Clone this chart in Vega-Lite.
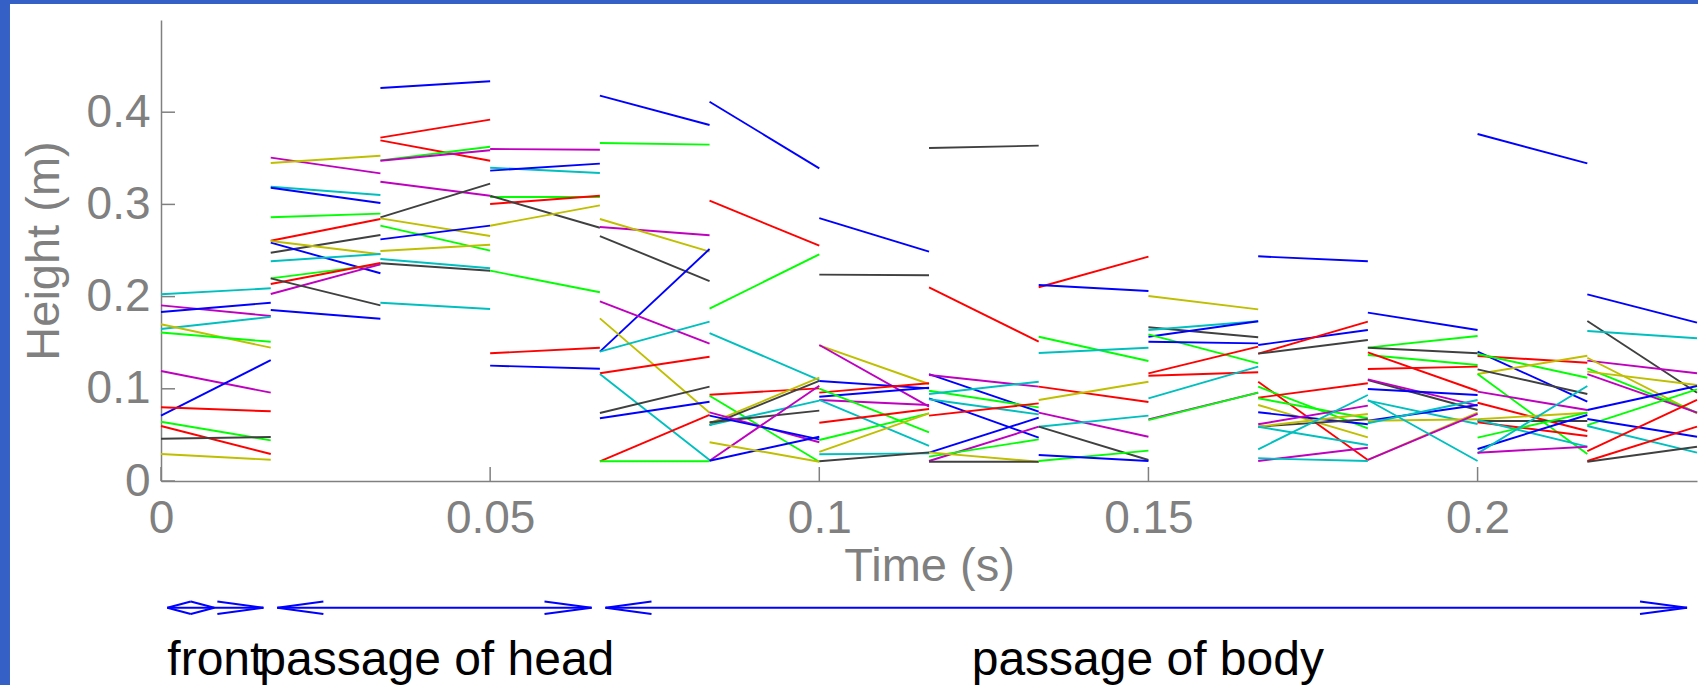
{
  "$schema": "https://vega.github.io/schema/vega-lite/v6.json",
  "width": 1536,
  "height": 461,
  "autosize": {"type": "none"},
  "padding": {"left": 161, "top": 20, "right": 1, "bottom": 204},
  "background": "white",
  "config": {
    "view": {"stroke": null},
    "font": "Liberation Sans",
    "numberFormat": "~g",
    "axis": {
      "grid": false, "ticks": false,
      "labelFont": "Liberation Sans", "labelFontSize": 46, "labelColor": "#808080",
      "labelFlush": false, "labelOverlap": false,
      "domainColor": "#808080", "domainWidth": 1.5,
      "titleFont": "Liberation Sans", "titleFontSize": 47, "titleFontWeight": "normal", "titleColor": "#808080"
    },
    "axisX": {"labelPadding": 51, "labelBaseline": "alphabetic", "titleX": 768, "titleY": 99, "titleBaseline": "alphabetic", "titleAlign": "center"},
    "axisY": {"labelPadding": 11, "labelBaseline": "middle", "labelAlign": "right", "titleX": -103, "titleY": 230.5, "titleBaseline": "alphabetic", "titleAlign": "center", "titleAngle": -90}
  },
  "datasets": {
    "segments": [
      {"c":"c","t0":0,"t1":0.01667,"h0":0.2025,"h1":0.209},
      {"c":"m","t0":0,"t1":0.01667,"h0":0.1905,"h1":0.179},
      {"c":"b","t0":0,"t1":0.01667,"h0":0.1833,"h1":0.1934},
      {"c":"c","t0":0,"t1":0.01667,"h0":0.1648,"h1":0.178},
      {"c":"y","t0":0,"t1":0.01667,"h0":0.170,"h1":0.1446},
      {"c":"g","t0":0,"t1":0.01667,"h0":0.161,"h1":0.151},
      {"c":"m","t0":0,"t1":0.01667,"h0":0.1193,"h1":0.0958},
      {"c":"b","t0":0,"t1":0.01667,"h0":0.0709,"h1":0.131},
      {"c":"r","t0":0,"t1":0.01667,"h0":0.080,"h1":0.0756},
      {"c":"g","t0":0,"t1":0.01667,"h0":0.0643,"h1":0.0441},
      {"c":"r","t0":0,"t1":0.01667,"h0":0.0597,"h1":0.0293},
      {"c":"k","t0":0,"t1":0.01667,"h0":0.0459,"h1":0.0477},
      {"c":"y","t0":0,"t1":0.01667,"h0":0.0293,"h1":0.0231},

      {"c":"m","t0":0.01667,"t1":0.03333,"h0":0.3507,"h1":0.3337},
      {"c":"y","t0":0.01667,"t1":0.03333,"h0":0.3449,"h1":0.3528},
      {"c":"c","t0":0.01667,"t1":0.03333,"h0":0.3192,"h1":0.3102},
      {"c":"b","t0":0.01667,"t1":0.03333,"h0":0.3181,"h1":0.3015},
      {"c":"g","t0":0.01667,"t1":0.03333,"h0":0.286,"h1":0.290},
      {"c":"r","t0":0.01667,"t1":0.03333,"h0":0.2606,"h1":0.2842},
      {"c":"k","t0":0.01667,"t1":0.03333,"h0":0.2476,"h1":0.2668},
      {"c":"b","t0":0.01667,"t1":0.03333,"h0":0.2585,"h1":0.2253},
      {"c":"y","t0":0.01667,"t1":0.03333,"h0":0.2603,"h1":0.2459},
      {"c":"c","t0":0.01667,"t1":0.03333,"h0":0.2383,"h1":0.2462},
      {"c":"g","t0":0.01667,"t1":0.03333,"h0":0.2198,"h1":0.235},
      {"c":"r","t0":0.01667,"t1":0.03333,"h0":0.2137,"h1":0.2364},
      {"c":"m","t0":0.01667,"t1":0.03333,"h0":0.2028,"h1":0.235},
      {"c":"k","t0":0.01667,"t1":0.03333,"h0":0.2198,"h1":0.1905},
      {"c":"b","t0":0.01667,"t1":0.03333,"h0":0.1855,"h1":0.176},

      {"c":"b","t0":0.03333,"t1":0.05,"h0":0.4262,"h1":0.4335},
      {"c":"r","t0":0.03333,"t1":0.05,"h0":0.3724,"h1":0.3919},
      {"c":"r","t0":0.03333,"t1":0.05,"h0":0.3695,"h1":0.3474},
      {"c":"g","t0":0.03333,"t1":0.05,"h0":0.3478,"h1":0.3626},
      {"c":"m","t0":0.03333,"t1":0.05,"h0":0.3474,"h1":0.3587},
      {"c":"m","t0":0.03333,"t1":0.05,"h0":0.3246,"h1":0.3094},
      {"c":"k","t0":0.03333,"t1":0.05,"h0":0.286,"h1":0.3225},
      {"c":"y","t0":0.03333,"t1":0.05,"h0":0.2849,"h1":0.2657},
      {"c":"g","t0":0.03333,"t1":0.05,"h0":0.2769,"h1":0.2498},
      {"c":"b","t0":0.03333,"t1":0.05,"h0":0.2621,"h1":0.277},
      {"c":"y","t0":0.03333,"t1":0.05,"h0":0.2495,"h1":0.2563},
      {"c":"c","t0":0.03333,"t1":0.05,"h0":0.2408,"h1":0.2307},
      {"c":"k","t0":0.03333,"t1":0.05,"h0":0.2361,"h1":0.2281},
      {"c":"c","t0":0.03333,"t1":0.05,"h0":0.1934,"h1":0.1866},

      {"c":"m","t0":0.05,"t1":0.06667,"h0":0.3601,"h1":0.3593},
      {"c":"c","t0":0.05,"t1":0.06667,"h0":0.3398,"h1":0.334},
      {"c":"b","t0":0.05,"t1":0.06667,"h0":0.3366,"h1":0.3442},
      {"c":"g","t0":0.05,"t1":0.06667,"h0":0.308,"h1":0.308},
      {"c":"r","t0":0.05,"t1":0.06667,"h0":0.3004,"h1":0.3094},
      {"c":"k","t0":0.05,"t1":0.06667,"h0":0.3094,"h1":0.2747},
      {"c":"y","t0":0.05,"t1":0.06667,"h0":0.2769,"h1":0.299},
      {"c":"g","t0":0.05,"t1":0.06667,"h0":0.2281,"h1":0.2047},
      {"c":"r","t0":0.05,"t1":0.06667,"h0":0.1385,"h1":0.1446},
      {"c":"b","t0":0.05,"t1":0.06667,"h0":0.1251,"h1":0.1218},

      {"c":"b","t0":0.06667,"t1":0.08333,"h0":0.4179,"h1":0.3861},
      {"c":"g","t0":0.06667,"t1":0.08333,"h0":0.3666,"h1":0.3648},
      {"c":"m","t0":0.06667,"t1":0.08333,"h0":0.2755,"h1":0.2665},
      {"c":"y","t0":0.06667,"t1":0.08333,"h0":0.2842,"h1":0.2487},
      {"c":"k","t0":0.06667,"t1":0.08333,"h0":0.2657,"h1":0.2169},
      {"c":"b","t0":0.06667,"t1":0.08333,"h0":0.1403,"h1":0.2516},
      {"c":"m","t0":0.06667,"t1":0.08333,"h0":0.1949,"h1":0.1489},
      {"c":"y","t0":0.06667,"t1":0.08333,"h0":0.1764,"h1":0.0741},
      {"c":"c","t0":0.06667,"t1":0.08333,"h0":0.1403,"h1":0.1728},
      {"c":"r","t0":0.06667,"t1":0.08333,"h0":0.1168,"h1":0.1348},
      {"c":"c","t0":0.06667,"t1":0.08333,"h0":0.1160,"h1":0.0228},
      {"c":"k","t0":0.06667,"t1":0.08333,"h0":0.0737,"h1":0.1023},
      {"c":"b","t0":0.06667,"t1":0.08333,"h0":0.068,"h1":0.086},
      {"c":"r","t0":0.06667,"t1":0.08333,"h0":0.0214,"h1":0.0716},
      {"c":"g","t0":0.06667,"t1":0.08333,"h0":0.0214,"h1":0.0214},

      {"c":"b","t0":0.08333,"t1":0.1,"h0":0.4114,"h1":0.3391},
      {"c":"r","t0":0.08333,"t1":0.1,"h0":0.304,"h1":0.2552},
      {"c":"g","t0":0.08333,"t1":0.1,"h0":0.1869,"h1":0.2459},
      {"c":"c","t0":0.08333,"t1":0.1,"h0":0.1605,"h1":0.1095},
      {"c":"r","t0":0.08333,"t1":0.1,"h0":0.0936,"h1":0.1005},
      {"c":"g","t0":0.08333,"t1":0.1,"h0":0.0925,"h1":0.0209},
      {"c":"y","t0":0.08333,"t1":0.1,"h0":0.0626,"h1":0.112},
      {"c":"k","t0":0.08333,"t1":0.1,"h0":0.0607,"h1":0.1085},
      {"c":"c","t0":0.08333,"t1":0.1,"h0":0.0607,"h1":0.0871},
      {"c":"k","t0":0.08333,"t1":0.1,"h0":0.0637,"h1":0.0763},
      {"c":"m","t0":0.08333,"t1":0.1,"h0":0.0745,"h1":0.042},
      {"c":"b","t0":0.08333,"t1":0.1,"h0":0.0709,"h1":0.0452},
      {"c":"m","t0":0.08333,"t1":0.1,"h0":0.022,"h1":0.1034},
      {"c":"b","t0":0.08333,"t1":0.1,"h0":0.022,"h1":0.048},
      {"c":"y","t0":0.08333,"t1":0.1,"h0":0.042,"h1":0.0209},

      {"c":"b","t0":0.1,"t1":0.11667,"h0":0.2852,"h1":0.2487},
      {"c":"k","t0":0.1,"t1":0.11667,"h0":0.2238,"h1":0.2231},
      {"c":"y","t0":0.1,"t1":0.11667,"h0":0.1471,"h1":0.1052},
      {"c":"m","t0":0.1,"t1":0.11667,"h0":0.1475,"h1":0.0806},
      {"c":"b","t0":0.1,"t1":0.11667,"h0":0.1085,"h1":0.1005},
      {"c":"r","t0":0.1,"t1":0.11667,"h0":0.0958,"h1":0.106},
      {"c":"b","t0":0.1,"t1":0.11667,"h0":0.0914,"h1":0.1012},
      {"c":"m","t0":0.1,"t1":0.11667,"h0":0.0879,"h1":0.0824},
      {"c":"g","t0":0.1,"t1":0.11667,"h0":0.1001,"h1":0.0528},
      {"c":"c","t0":0.1,"t1":0.11667,"h0":0.0879,"h1":0.038},
      {"c":"r","t0":0.1,"t1":0.11667,"h0":0.0632,"h1":0.0781},
      {"c":"g","t0":0.1,"t1":0.11667,"h0":0.0445,"h1":0.0734},
      {"c":"y","t0":0.1,"t1":0.11667,"h0":0.0315,"h1":0.0734},
      {"c":"c","t0":0.1,"t1":0.11667,"h0":0.029,"h1":0.030},
      {"c":"k","t0":0.1,"t1":0.11667,"h0":0.0214,"h1":0.0311},

      {"c":"k","t0":0.11667,"t1":0.13333,"h0":0.3612,"h1":0.3637},
      {"c":"r","t0":0.11667,"t1":0.13333,"h0":0.2101,"h1":0.1511},
      {"c":"b","t0":0.11667,"t1":0.13333,"h0":0.116,"h1":0.0752},
      {"c":"m","t0":0.11667,"t1":0.13333,"h0":0.1149,"h1":0.1023},
      {"c":"g","t0":0.11667,"t1":0.13333,"h0":0.0979,"h1":0.0799},
      {"c":"c","t0":0.11667,"t1":0.13333,"h0":0.0944,"h1":0.1077},
      {"c":"b","t0":0.11667,"t1":0.13333,"h0":0.0897,"h1":0.047},
      {"c":"c","t0":0.11667,"t1":0.13333,"h0":0.0886,"h1":0.0723},
      {"c":"r","t0":0.11667,"t1":0.13333,"h0":0.0709,"h1":0.0842},
      {"c":"b","t0":0.11667,"t1":0.13333,"h0":0.0307,"h1":0.0687},
      {"c":"m","t0":0.11667,"t1":0.13333,"h0":0.0217,"h1":0.0589},
      {"c":"g","t0":0.11667,"t1":0.13333,"h0":0.0264,"h1":0.0452},
      {"c":"y","t0":0.11667,"t1":0.13333,"h0":0.0311,"h1":0.0209},
      {"c":"k","t0":0.11667,"t1":0.13333,"h0":0.0209,"h1":0.0209},

      {"c":"r","t0":0.13333,"t1":0.15,"h0":0.2101,"h1":0.2433},
      {"c":"b","t0":0.13333,"t1":0.15,"h0":0.2126,"h1":0.2061},
      {"c":"g","t0":0.13333,"t1":0.15,"h0":0.1565,"h1":0.1302},
      {"c":"c","t0":0.13333,"t1":0.15,"h0":0.1388,"h1":0.1446},
      {"c":"r","t0":0.13333,"t1":0.15,"h0":0.1023,"h1":0.0857},
      {"c":"y","t0":0.13333,"t1":0.15,"h0":0.0879,"h1":0.1077},
      {"c":"m","t0":0.13333,"t1":0.15,"h0":0.0741,"h1":0.048},
      {"c":"c","t0":0.13333,"t1":0.15,"h0":0.0589,"h1":0.0709},
      {"c":"k","t0":0.13333,"t1":0.15,"h0":0.0589,"h1":0.0228},
      {"c":"g","t0":0.13333,"t1":0.15,"h0":0.0217,"h1":0.0329},
      {"c":"b","t0":0.13333,"t1":0.15,"h0":0.0282,"h1":0.0217},

      {"c":"y","t0":0.15,"t1":0.16667,"h0":0.2007,"h1":0.1862},
      {"c":"k","t0":0.15,"t1":0.16667,"h0":0.1667,"h1":0.1559},
      {"c":"c","t0":0.15,"t1":0.16667,"h0":0.1638,"h1":0.1732},
      {"c":"b","t0":0.15,"t1":0.16667,"h0":0.1565,"h1":0.1732},
      {"c":"g","t0":0.15,"t1":0.16667,"h0":0.159,"h1":0.1276},
      {"c":"b","t0":0.15,"t1":0.16667,"h0":0.151,"h1":0.1493},
      {"c":"r","t0":0.15,"t1":0.16667,"h0":0.1168,"h1":0.1457},
      {"c":"r","t0":0.15,"t1":0.16667,"h0":0.1142,"h1":0.1179},
      {"c":"c","t0":0.15,"t1":0.16667,"h0":0.0897,"h1":0.124},
      {"c":"m","t0":0.15,"t1":0.16667,"h0":0.0669,"h1":0.0958},
      {"c":"g","t0":0.15,"t1":0.16667,"h0":0.066,"h1":0.0958},

      {"c":"b","t0":0.16667,"t1":0.18333,"h0":0.2437,"h1":0.2383},
      {"c":"b","t0":0.16667,"t1":0.18333,"h0":0.1475,"h1":0.1638},
      {"c":"r","t0":0.16667,"t1":0.18333,"h0":0.1381,"h1":0.1728},
      {"c":"k","t0":0.16667,"t1":0.18333,"h0":0.1381,"h1":0.1529},
      {"c":"r","t0":0.16667,"t1":0.18333,"h0":0.1077,"h1":0.0228},
      {"c":"g","t0":0.16667,"t1":0.18333,"h0":0.1023,"h1":0.0571},
      {"c":"r","t0":0.16667,"t1":0.18333,"h0":0.0904,"h1":0.106},
      {"c":"g","t0":0.16667,"t1":0.18333,"h0":0.0897,"h1":0.068},
      {"c":"y","t0":0.16667,"t1":0.18333,"h0":0.0824,"h1":0.0474},
      {"c":"b","t0":0.16667,"t1":0.18333,"h0":0.0745,"h1":0.0615},
      {"c":"m","t0":0.16667,"t1":0.18333,"h0":0.0615,"h1":0.0817},
      {"c":"k","t0":0.16667,"t1":0.18333,"h0":0.0589,"h1":0.0669},
      {"c":"y","t0":0.16667,"t1":0.18333,"h0":0.0589,"h1":0.0727},
      {"c":"c","t0":0.16667,"t1":0.18333,"h0":0.0589,"h1":0.039},
      {"c":"c","t0":0.16667,"t1":0.18333,"h0":0.0344,"h1":0.0933},
      {"c":"m","t0":0.16667,"t1":0.18333,"h0":0.0217,"h1":0.0361},
      {"c":"c","t0":0.16667,"t1":0.18333,"h0":0.0246,"h1":0.0217},

      {"c":"b","t0":0.18333,"t1":0.2,"h0":0.1826,"h1":0.1638},
      {"c":"g","t0":0.18333,"t1":0.2,"h0":0.1446,"h1":0.1573},
      {"c":"k","t0":0.18333,"t1":0.2,"h0":0.1446,"h1":0.1385},
      {"c":"g","t0":0.18333,"t1":0.2,"h0":0.1367,"h1":0.1258},
      {"c":"r","t0":0.18333,"t1":0.2,"h0":0.1396,"h1":0.0976},
      {"c":"r","t0":0.18333,"t1":0.2,"h0":0.1215,"h1":0.124},
      {"c":"k","t0":0.18333,"t1":0.2,"h0":0.1095,"h1":0.077},
      {"c":"m","t0":0.18333,"t1":0.2,"h0":0.1103,"h1":0.0817},
      {"c":"b","t0":0.18333,"t1":0.2,"h0":0.0998,"h1":0.0933},
      {"c":"c","t0":0.18333,"t1":0.2,"h0":0.0871,"h1":0.0618},
      {"c":"b","t0":0.18333,"t1":0.2,"h0":0.0654,"h1":0.0824},
      {"c":"y","t0":0.18333,"t1":0.2,"h0":0.0654,"h1":0.0669},
      {"c":"c","t0":0.18333,"t1":0.2,"h0":0.0626,"h1":0.0879},
      {"c":"y","t0":0.18333,"t1":0.2,"h0":0.0228,"h1":0.0741},
      {"c":"m","t0":0.18333,"t1":0.2,"h0":0.0228,"h1":0.0727},
      {"c":"c","t0":0.18333,"t1":0.2,"h0":0.0879,"h1":0.0217},

      {"c":"b","t0":0.2,"t1":0.21667,"h0":0.3764,"h1":0.3445},
      {"c":"b","t0":0.2,"t1":0.21667,"h0":0.1403,"h1":0.086},
      {"c":"r","t0":0.2,"t1":0.21667,"h0":0.1356,"h1":0.1283},
      {"c":"g","t0":0.2,"t1":0.21667,"h0":0.1377,"h1":0.112},
      {"c":"y","t0":0.2,"t1":0.21667,"h0":0.116,"h1":0.1359},
      {"c":"k","t0":0.2,"t1":0.21667,"h0":0.1211,"h1":0.0944},
      {"c":"g","t0":0.2,"t1":0.21667,"h0":0.116,"h1":0.0293},
      {"c":"m","t0":0.2,"t1":0.21667,"h0":0.0969,"h1":0.077},
      {"c":"r","t0":0.2,"t1":0.21667,"h0":0.0849,"h1":0.0542},
      {"c":"y","t0":0.2,"t1":0.21667,"h0":0.0669,"h1":0.0741},
      {"c":"k","t0":0.2,"t1":0.21667,"h0":0.0651,"h1":0.0651},
      {"c":"r","t0":0.2,"t1":0.21667,"h0":0.0637,"h1":0.0488},
      {"c":"c","t0":0.2,"t1":0.21667,"h0":0.0662,"h1":0.0372},
      {"c":"g","t0":0.2,"t1":0.21667,"h0":0.047,"h1":0.0741},
      {"c":"b","t0":0.2,"t1":0.21667,"h0":0.0347,"h1":0.0716},
      {"c":"c","t0":0.2,"t1":0.21667,"h0":0.030,"h1":0.103},
      {"c":"m","t0":0.2,"t1":0.21667,"h0":0.0307,"h1":0.0372},

      {"c":"b","t0":0.21667,"t1":0.23333,"h0":0.2025,"h1":0.1717},
      {"c":"k","t0":0.21667,"t1":0.23333,"h0":0.1735,"h1":0.0958},
      {"c":"c","t0":0.21667,"t1":0.23333,"h0":0.1627,"h1":0.1548},
      {"c":"m","t0":0.21667,"t1":0.23333,"h0":0.1305,"h1":0.1168},
      {"c":"y","t0":0.21667,"t1":0.23333,"h0":0.1337,"h1":0.0734},
      {"c":"g","t0":0.21667,"t1":0.23333,"h0":0.1222,"h1":0.0741},
      {"c":"y","t0":0.21667,"t1":0.23333,"h0":0.1186,"h1":0.1041},
      {"c":"m","t0":0.21667,"t1":0.23333,"h0":0.116,"h1":0.0741},
      {"c":"b","t0":0.21667,"t1":0.23333,"h0":0.077,"h1":0.103},
      {"c":"g","t0":0.21667,"t1":0.23333,"h0":0.0607,"h1":0.0994},
      {"c":"b","t0":0.21667,"t1":0.23333,"h0":0.0672,"h1":0.048},
      {"c":"c","t0":0.21667,"t1":0.23333,"h0":0.0597,"h1":0.0307},
      {"c":"r","t0":0.21667,"t1":0.23333,"h0":0.0325,"h1":0.0879},
      {"c":"r","t0":0.21667,"t1":0.23333,"h0":0.0217,"h1":0.0589},
      {"c":"k","t0":0.21667,"t1":0.23333,"h0":0.0209,"h1":0.0372}
    ],
    "arrows": [
      {"x1":0.00096,"y1":-0.1374,"x2":0.01555,"y2":-0.1374},
      {"x1":0.01767,"y1":-0.1374,"x2":0.0654,"y2":-0.1374},
      {"x1":0.06752,"y1":-0.1374,"x2":0.23182,"y2":-0.1374},
      {"x1":0.00096,"y1":-0.1374,"x2":0.00453,"y2":-0.1306},
      {"x1":0.00096,"y1":-0.1374,"x2":0.00453,"y2":-0.1442},
      {"x1":0.00453,"y1":-0.1306,"x2":0.0081,"y2":-0.1374},
      {"x1":0.00453,"y1":-0.1442,"x2":0.0081,"y2":-0.1374},
      {"x1":0.00856,"y1":-0.1306,"x2":0.01555,"y2":-0.1374},
      {"x1":0.00856,"y1":-0.1442,"x2":0.01555,"y2":-0.1374},
      {"x1":0.01767,"y1":-0.1374,"x2":0.02467,"y2":-0.1306},
      {"x1":0.01767,"y1":-0.1374,"x2":0.02467,"y2":-0.1442},
      {"x1":0.05826,"y1":-0.1306,"x2":0.0654,"y2":-0.1374},
      {"x1":0.05826,"y1":-0.1442,"x2":0.0654,"y2":-0.1374},
      {"x1":0.06752,"y1":-0.1374,"x2":0.07451,"y2":-0.1306},
      {"x1":0.06752,"y1":-0.1374,"x2":0.07451,"y2":-0.1442},
      {"x1":0.22467,"y1":-0.1306,"x2":0.23182,"y2":-0.1374},
      {"x1":0.22467,"y1":-0.1442,"x2":0.23182,"y2":-0.1374}
    ],
    "phases": [
      {"label":"front","t":0.00096},
      {"label":"passage of head","t":0.01494},
      {"label":"passage of body","t":0.12315}
    ],
    "xticks": [{"v":0},{"v":0.05},{"v":0.1},{"v":0.15},{"v":0.2}],
    "yticks": [{"v":0},{"v":0.1},{"v":0.2},{"v":0.3},{"v":0.4}]
  },
  "layer": [
    {
      "data": {"name": "segments"},
      "mark": {"type": "rule", "strokeWidth": 1.9},
      "encoding": {
        "x": {
          "field": "t0", "type": "quantitative",
          "scale": {"domain": [0, 0.23333], "nice": false, "zero": false},
          "axis": {"title": "Time (s)", "values": [0, 0.05, 0.1, 0.15, 0.2]}
        },
        "x2": {"field": "t1"},
        "y": {
          "field": "h0", "type": "quantitative",
          "scale": {"domain": [0, 0.5], "nice": false, "zero": false},
          "axis": {"title": "Height (m)", "values": [0, 0.1, 0.2, 0.3, 0.4]}
        },
        "y2": {"field": "h1"},
        "color": {
          "field": "c", "type": "nominal",
          "scale": {"domain": ["b", "g", "r", "c", "m", "y", "k"], "range": ["#0000ff", "#00ff00", "#ff0000", "#00bfbf", "#bf00bf", "#bfbf00", "#404040"]},
          "legend": null
        }
      }
    },
    {
      "data": {"name": "xticks"},
      "mark": {"type": "rule", "strokeWidth": 1.5, "color": "#808080"},
      "encoding": {
        "x": {"field": "v", "type": "quantitative", "scale": {"domain": [0, 0.23333], "nice": false, "zero": false}},
        "y": {"datum": 0, "type": "quantitative", "scale": {"domain": [0, 0.5], "nice": false, "zero": false}},
        "y2": {"datum": 0.0152}
      }
    },
    {
      "data": {"name": "yticks"},
      "mark": {"type": "rule", "strokeWidth": 1.5, "color": "#808080"},
      "encoding": {
        "y": {"field": "v", "type": "quantitative", "scale": {"domain": [0, 0.5], "nice": false, "zero": false}},
        "x": {"datum": 0, "type": "quantitative", "scale": {"domain": [0, 0.23333], "nice": false, "zero": false}},
        "x2": {"datum": 0.00213}
      }
    },
    {
      "data": {"name": "arrows"},
      "mark": {"type": "rule", "strokeWidth": 2, "color": "#0000ff", "clip": false},
      "encoding": {
        "x": {"field": "x1", "type": "quantitative", "scale": {"domain": [0, 0.23333], "nice": false, "zero": false}},
        "x2": {"field": "x2"},
        "y": {"field": "y1", "type": "quantitative", "scale": {"domain": [0, 0.5], "nice": false, "zero": false}},
        "y2": {"field": "y2"}
      }
    },
    {
      "data": {"name": "phases"},
      "mark": {"type": "text", "align": "left", "baseline": "alphabetic", "fontSize": 48, "font": "Liberation Sans", "color": "#000000", "clip": false},
      "encoding": {
        "x": {"field": "t", "type": "quantitative", "scale": {"domain": [0, 0.23333], "nice": false, "zero": false}},
        "y": {"datum": -0.2108, "type": "quantitative", "scale": {"domain": [0, 0.5], "nice": false, "zero": false}},
        "text": {"field": "label"}
      }
    },
    {
      "data": {"values": [{"band": "left"}]},
      "mark": {"type": "rect", "color": "#3560c6", "clip": false},
      "encoding": {
        "x": {"datum": -0.06, "type": "quantitative", "scale": {"domain": [0, 0.23333], "nice": false, "zero": false}},
        "x2": {"datum": -0.02294},
        "y": {"datum": -0.5, "type": "quantitative", "scale": {"domain": [0, 0.5], "nice": false, "zero": false}},
        "y2": {"datum": 0.7}
      }
    },
    {
      "data": {"values": [{"band": "top"}]},
      "mark": {"type": "rect", "color": "#3560c6", "clip": false},
      "encoding": {
        "x": {"datum": -0.06, "type": "quantitative", "scale": {"domain": [0, 0.23333], "nice": false, "zero": false}},
        "x2": {"datum": 0.3},
        "y": {"datum": 0.51735, "type": "quantitative", "scale": {"domain": [0, 0.5], "nice": false, "zero": false}},
        "y2": {"datum": 0.7}
      }
    }
  ]
}
